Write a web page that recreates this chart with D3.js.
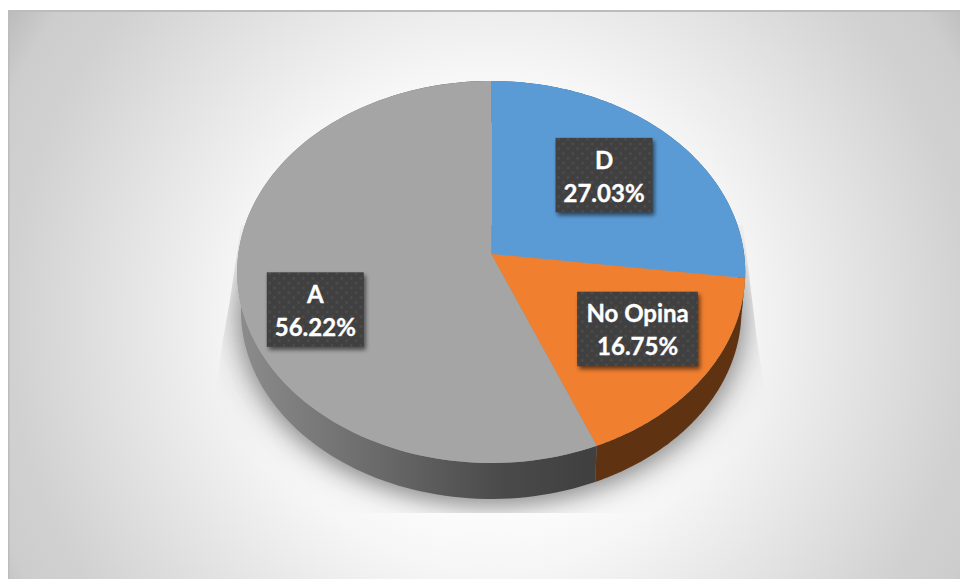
<!DOCTYPE html>
<html><head><meta charset="utf-8">
<script src="https://cdn.jsdelivr.net/npm/d3@7/dist/d3.min.js"></script>
<style>html,body{margin:0;padding:0;background:#fff}svg{display:block}</style>
</head><body><svg id="c" width="960" height="579"></svg>
<script>
const categories = ["D", "No Opina", "A"];
const values = [27.03, 16.75, 56.22];
const labels = ["27.03%", "16.75%", "56.22%"];
const topColors = ["#5b9bd5", "#f07f30", "#a5a5a5"];

const W = 960, H = 579;
const apex = {x: 491.2, y: 254}, A = 252.9, B = 189.3, K = 0.0942;
const svg = d3.select("#c");
const defs = svg.append("defs");

const bg = defs.append("radialGradient").attr("id","bg").attr("gradientUnits","userSpaceOnUse")
  .attr("cx",490).attr("cy",320).attr("r",570);
[[0,"#ffffff"],[0.35,"#fbfbfb"],[0.44,"#f6f6f6"],[0.68,"#e0e0e0"],[0.84,"#d1d1d1"],[0.93,"#cdcdcd"],[1,"#bcbcbc"]]
  .forEach(s=>bg.append("stop").attr("offset",s[0]).attr("stop-color",s[1]));

const wallGrad = defs.append("linearGradient").attr("id","wallA").attr("gradientUnits","userSpaceOnUse")
  .attr("x1",238).attr("x2",590).attr("y1",0).attr("y2",0);
[[0,"#8c8c8c"],[0.35,"#6e6e6e"],[0.75,"#4a4a4a"],[1,"#404040"]].forEach(s=>wallGrad.append("stop").attr("offset",s[0]).attr("stop-color",s[1]));

defs.append("filter").attr("id","blur").attr("x","-20%").attr("y","-20%").attr("width","140%").attr("height","140%")
  .append("feGaussianBlur").attr("stdDeviation",10);
defs.append("filter").attr("id","blurWide").attr("x","-20%").attr("y","-20%").attr("width","140%").attr("height","140%")
  .append("feGaussianBlur").attr("stdDeviation",16);
defs.append("filter").attr("id","blurS").attr("x","-30%").attr("y","-30%").attr("width","160%").attr("height","160%")
  .append("feGaussianBlur").attr("stdDeviation",2.2);

const pat = defs.append("pattern").attr("id","dots").attr("patternUnits","userSpaceOnUse")
  .attr("width",9.6).attr("height",9.6);
pat.append("rect").attr("width",9.6).attr("height",9.6).attr("fill","#404040");
[[2.4,2.4],[7.2,7.2]].forEach(p=>pat.append("rect").attr("x",p[0]-1).attr("y",p[1]-1).attr("width",2).attr("height",2).attr("fill","#525252"));

defs.append("clipPath").attr("id","shadowClip").append("path")
  .attr("d","M241,225 L230,300 L222,345 L217,385 L200,420 L200,513 L790,513 L790,420 L764,385 L757,340 L743,225 Z");

svg.append("rect").attr("x",8).attr("y",10).attr("width",W-8).attr("height",H-10).attr("fill","url(#bg)");
svg.append("rect").attr("x",8).attr("y",10).attr("width",W-8).attr("height",2).attr("fill","#bcbcbc");
svg.append("rect").attr("x",8).attr("y",10).attr("width",1.5).attr("height",H-10).attr("fill","#bcbcbc");

// unit circle angle (clockwise from top) -> perspective-projected screen point
function project(theta, r, lower){
  const u = r*Math.sin(theta), v = -r*Math.cos(theta), d = 1 - K*v;
  const x = A*u/d, y = B*v/d;
  return lower ? [apex.x + 0.985*x, apex.y + 39.1 + 0.985*y] : [apex.x + x, apex.y + y];
}
const arcs = d3.pie().sort(null).value(d=>d)(values);
const line = d3.line();
const samples = a => d3.range(0,121).map(i=>a.startAngle+(a.endAngle-a.startAngle)*i/120);

// soft shadow below the disc
const gShadow = svg.append("g").attr("clip-path","url(#shadowClip)");
const full = d3.range(0,241).map(i=>i/240*2*Math.PI);
const ring = (sx,dy) => line(full.map(t=>{const p=project(t,1,true);return [apex.x+(p[0]-apex.x)*sx,p[1]+dy];}))+"Z";
gShadow.append("path").attr("d",ring(1.03,8)).attr("fill","#a8a8a8").attr("opacity",0.75).attr("filter","url(#blurWide)");
gShadow.append("path").attr("d",ring(1.0,4)).attr("fill","#8a8a8a").attr("opacity",0.85).attr("filter","url(#blur)");

// walls
const wallFill = ["#2f5f8a","#5f3211","url(#wallA)"];
svg.append("g").selectAll("path").data(arcs).join("path")
  .attr("d",(a)=>{
    const t = samples(a);
    return line(t.map(x=>project(x,1,false)).concat(t.slice().reverse().map(x=>project(x,1,true))))+"Z";
  })
  .attr("fill",(a,i)=>wallFill[i]);

// top faces
svg.append("g").selectAll("path").data(arcs).join("path")
  .attr("d",a=>line([project(0,0,false)].concat(samples(a).map(x=>project(x,1,false))))+"Z")
  .attr("fill",(a,i)=>topColors[i]);

// labels
const labelPlace = [[-14.5,5,97],[0,-9,121],[0,29.5,97]];
const boxH = 74.5;
const gl = svg.append("g").selectAll("g").data(arcs).join("g")
  .attr("transform",(a,i)=>{
    const p = project((a.startAngle+a.endAngle)/2,0.7,false);
    return `translate(${p[0]+labelPlace[i][0]},${p[1]+labelPlace[i][1]})`;
  });
gl.append("rect").attr("x",(a,i)=>-labelPlace[i][2]/2+2).attr("y",-boxH/2+3).attr("width",(a,i)=>labelPlace[i][2]).attr("height",boxH)
  .attr("fill","#000").attr("opacity",0.55).attr("filter","url(#blurS)");
gl.append("rect").attr("x",(a,i)=>-labelPlace[i][2]/2).attr("y",-boxH/2).attr("width",(a,i)=>labelPlace[i][2]).attr("height",boxH)
  .attr("fill","url(#dots)");
const textStyle = s => s.attr("text-anchor","middle").attr("fill","#fff").attr("stroke","#fff").attr("stroke-width",0.35)
  .attr("font-family","Lato").attr("font-weight",700).attr("font-size",24);
gl.append("text").call(textStyle).attr("y",-6.5).text((a,i)=>categories[i]);
gl.append("text").call(textStyle).attr("y",26.5).text((a,i)=>labels[i]);
</script></body></html>
